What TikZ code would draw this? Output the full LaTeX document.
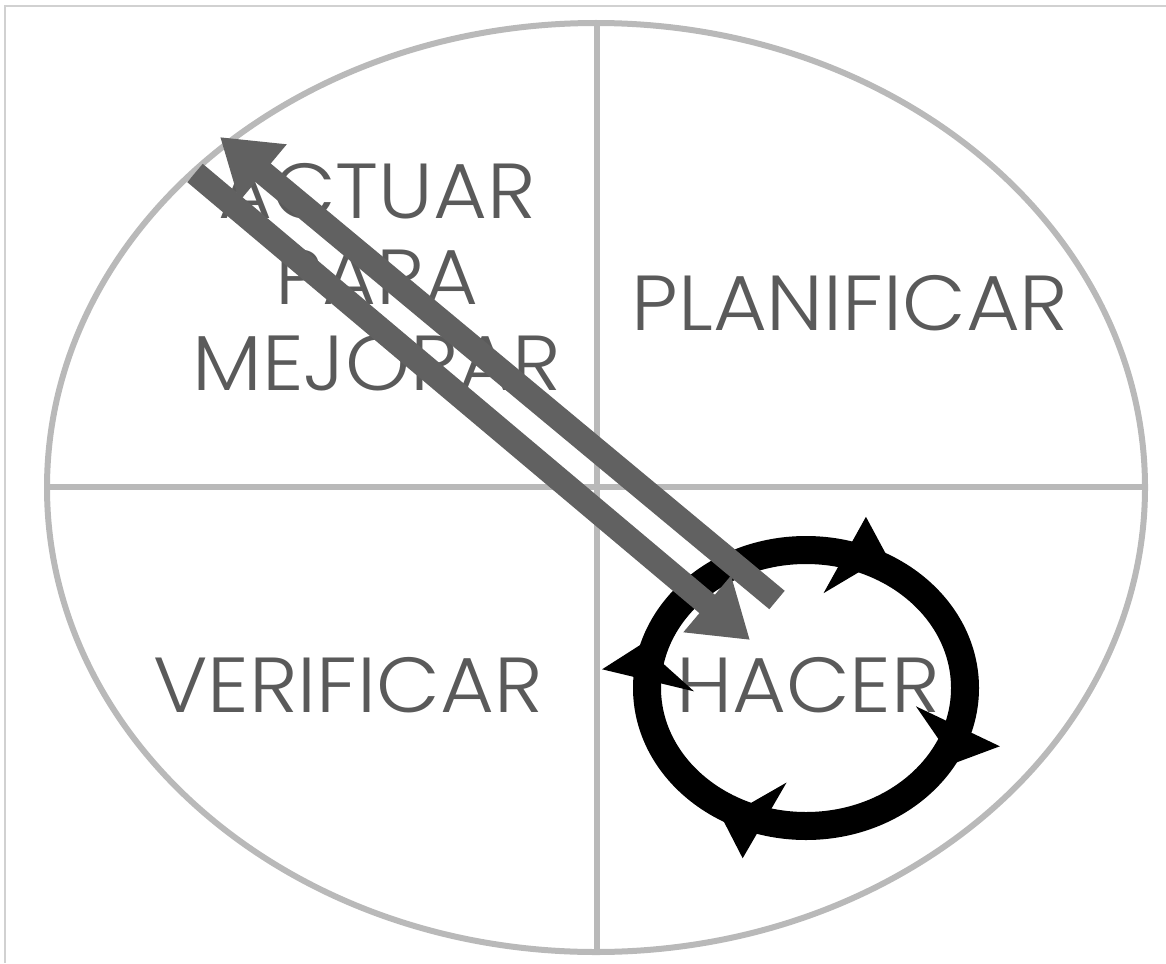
\documentclass[tikz,border=0pt]{standalone}
\usepackage{fontspec}
\newfontfamily\pdcafont{Poppins Light}[FakeStretch=1.06]
\usetikzlibrary{arrows.meta}
\definecolor{rimgray}{HTML}{B9B9B9}
\definecolor{stagegray}{HTML}{5A5A5A}
\definecolor{arrowgray}{HTML}{616161}

\begin{document}
\begin{tikzpicture}[
    x=1pt, y=-1pt,
    rim/.style={draw=rimgray, line width=6pt},
    stage/.style={text=stagegray, font=\pdcafont\fontsize{78}{86}\selectfont, inner sep=0pt, align=center},
    bigarrow/.style={draw=arrowgray, line width=24pt, -{Triangle[length=56pt, width=70pt]}},
    barb/.style={fill=black}
]
\useasboundingbox (0,0) rectangle (1166,963);
\draw[draw=black!18, line width=2.5pt] (5,963) -- (5,6) -- (1166,6);

% circulo de fondo y cuadrantes
\coordinate (mid) at (596,487.5);
\draw[rim] (mid) ellipse [x radius=549pt, y radius=464.5pt];
\draw[rim] (597,23) -- (597,952);
\draw[rim] (47,487) -- (1145,487);

\node[stage] (actuar) at (377,277) {ACTUAR\\PARA\\MEJORAR};
\node[stage, anchor=base] (planificar) at (850,330) {PLANIFICAR};
\node[stage, anchor=base] (verificar) at (348,712) {VERIFICAR};
\node[stage, anchor=base] (hacer) at (808,712) {HACER};

% rueda de hacer
\coordinate (wheel) at (806,688);
\draw[line width=28pt] (wheel) ellipse [x radius=159pt, y radius=138pt];
\foreach \a in {73,-19,-108,174}
  \fill[barb] ([shift={(\a:205pt and 179pt)}]wheel) -- ([shift={({\a+8}:112pt and 96pt)}]wheel) -- ([shift={({\a-11}:172pt and 150pt)}]wheel) -- cycle;

\coordinate (backtail) at (777,600);
\coordinate (backtip) at (220,137);
\coordinate (fwdtail) at (195,173);
\coordinate (fwdtip) at (750,640);
\draw[bigarrow] (backtail) -- (backtip);
\draw[bigarrow] (fwdtail) -- (fwdtip);
\end{tikzpicture}
\end{document}
